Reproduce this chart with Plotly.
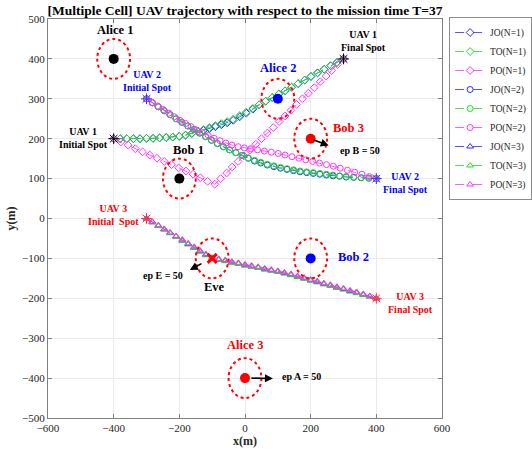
import plotly.graph_objects as go

# ---------------- data ----------------
title_text = "[Multiple Cell] UAV trajectory with respect to the mission time T=37"
x_ticks = [-600, -400, -200, 0, 200, 400, 600]
y_ticks = [-500, -400, -300, -200, -100, 0, 100, 200, 300, 400, 500]

# UAV 1 (N=1)
jo1_x = [-400, -380, -360, -340, -320, -300, -280, -260, -240, -220, -200, -181, -162, -144, -126, -108, -90, -72, -54, -36,
         -16, 4, 24, 43, 63, 83, 103, 122, 142, 162, 182, 201, 221, 241, 261, 280, 300]
jo1_y = [200, 200, 200, 200, 200, 201, 201, 202, 203, 204, 206, 209, 213, 218, 221, 225, 230, 235, 240, 246,
         255, 264, 274, 285, 294, 303, 312, 320, 329, 338, 347, 356, 365, 374, 383, 391, 400]
to1_x = [-400, -380, -360, -340, -320, -300, -280, -260, -240, -220, -200, -181, -162, -144, -126, -108, -90, -72, -54, -36,
         -16, 4, 24, 43, 63, 83, 103, 122, 142, 162, 182, 201, 221, 241, 261, 280, 300]
to1_y = [200, 200, 200, 200, 200, 201, 201, 202, 203, 204, 206, 209, 213, 218, 223, 228, 233, 238, 243, 249,
         258, 267, 276, 285, 294, 303, 312, 320, 329, 338, 347, 356, 365, 374, 383, 391, 400]
po1_x = [-400, -378, -356, -334, -312, -290, -268, -246, -224, -202, -180, -158, -136, -114, -92, -74, -56, -39, -21, -3,
         15, 33, 50, 68, 86, 104, 122, 140, 157, 175, 193, 211, 229, 247, 264, 282, 300]
po1_y = [200, 192, 184, 175, 167, 159, 151, 143, 135, 127, 119, 111, 102, 93, 86, 100, 114, 129, 143, 157,
         171, 186, 200, 214, 228, 243, 257, 271, 286, 300, 314, 328, 343, 357, 371, 386, 400]

# UAV 2 (N=2)
jo2_x = [-300, -282, -264, -246, -228, -210, -192, -174, -156, -138, -120, -102, -84, -66, -47, -28, -9, 10, 29, 48,
         68, 88, 108, 128, 148, 168, 188, 208, 228, 248, 268, 288, 308, 331, 354, 377, 400]
jo2_y = [300, 290, 280, 270, 260, 250, 241, 232, 223, 214, 205, 196, 188, 180, 172, 165, 158, 151, 144, 139,
         134, 130, 126, 123, 120, 117, 115, 113, 111, 109, 107, 106, 104, 103, 102, 101, 100]
to2_x = [-300, -282, -264, -246, -228, -210, -192, -174, -156, -138, -120, -102, -84, -66, -47, -28, -9, 10, 29, 48,
         68, 88, 108, 128, 148, 168, 188, 208, 228, 248, 268, 288, 308, 331, 354, 377, 400]
to2_y = [300, 290, 280, 270, 260, 250, 241, 232, 223, 214, 205, 196, 188, 180, 172, 165, 158, 152, 146, 141,
         136, 132, 128, 125, 122, 119, 117, 115, 113, 111, 109, 107, 105, 104, 102, 101, 100]
po2_x = [-300, -283, -266, -249, -232, -215, -198, -181, -164, -147, -130, -112, -94, -76, -58, -40, -21, -2, 17, 38,
         59, 80, 101, 122, 143, 164, 185, 206, 227, 248, 269, 290, 312, 334, 356, 378, 400]
po2_y = [300, 291, 282, 273, 264, 255, 246, 238, 230, 222, 215, 208, 201, 195, 189, 184, 180, 177, 175, 172,
         169, 166, 163, 159, 155, 151, 147, 143, 139, 135, 131, 126, 121, 116, 111, 105, 100]

# UAV 3 (N=3)
jo3_x = [-300, -282, -264, -246, -228, -210, -191, -173, -155, -137, -119, -100, -80, -60, -40, -20, 0, 20, 40, 60,
         80, 100, 120, 140, 160, 180, 200, 220, 240, 260, 280, 300, 320, 340, 360, 380, 400]
jo3_y = [0, -9, -18, -27, -36, -45, -55, -64, -73, -82, -91, -100, -103, -106, -110, -113, -117, -120, -123, -127,
         -130, -133, -137, -141, -146, -150, -155, -159, -164, -168, -173, -177, -182, -186, -191, -195, -200]
to3_x = [-300, -282, -264, -246, -228, -210, -191, -173, -155, -137, -119, -100, -80, -60, -40, -20, 0, 20, 40, 60,
         80, 100, 120, 140, 160, 180, 200, 220, 240, 260, 280, 300, 320, 340, 360, 380, 400]
to3_y = [0, -10, -19, -28, -37, -46, -56, -65, -74, -83, -92, -101, -104, -107, -111, -114, -118, -121, -124, -128,
         -131, -134, -138, -142, -147, -151, -156, -160, -165, -169, -174, -178, -183, -187, -192, -196, -201]
po3_x = [-300, -282, -264, -246, -228, -210, -191, -173, -155, -137, -119, -100, -80, -60, -40, -20, 0, 20, 40, 60,
         80, 100, 120, 140, 160, 180, 200, 220, 240, 260, 280, 300, 320, 340, 360, 380, 400]
po3_y = [0, -8, -17, -26, -35, -44, -53, -62, -71, -80, -89, -98, -101, -104, -108, -111, -115, -118, -121, -125,
         -128, -131, -135, -139, -144, -148, -153, -157, -162, -166, -171, -175, -180, -184, -189, -194, -200]

# UAV initial / final spots
uav_names = ["UAV 1", "UAV 2", "UAV 3"]
start_x = [-400, -300, -300]
start_y = [200, 300, 0]
final_x = [300, 400, 400]
final_y = [400, 100, -200]

# users
alice_names = ["Alice 1", "Alice 2", "Alice 3"]
alice_x = [-400, 100, 0]
alice_y = [400, 300, -400]
bob_names = ["Bob 1", "Bob 2", "Bob 3"]
bob_x = [-200, 200, 200]
bob_y = [100, -100, 200]
eve_x = [-100]
eve_y = [-100]
ep_a = 50
ep_b = 50
ep_e = 50

# ---------------- styles ----------------
SERIF = "Liberation Serif"
BLUE = "#2b2bff"
GREEN = "#22dd22"
MAG = "#ff33ff"
RED = "#ff0000"
cell_colors = ["#000000", "#0000ff", "#ff0000"]
star_colors = ["#000000", "#3333ff", "#ff3333"]

fig = go.Figure()

series = [
    ("JO(N=1)", jo1_x, jo1_y, BLUE, "diamond-open"),
    ("TO(N=1)", to1_x, to1_y, GREEN, "diamond-open"),
    ("PO(N=1)", po1_x, po1_y, MAG, "diamond-open"),
    ("JO(N=2)", jo2_x, jo2_y, BLUE, "circle-open"),
    ("TO(N=2)", to2_x, to2_y, GREEN, "circle-open"),
    ("PO(N=2)", po2_x, po2_y, MAG, "circle-open"),
    ("JO(N=3)", jo3_x, jo3_y, BLUE, "triangle-up-open"),
    ("TO(N=3)", to3_x, to3_y, GREEN, "triangle-up-open"),
    ("PO(N=3)", po3_x, po3_y, MAG, "triangle-up-open"),
]
for name, xs, ys, col, sym in series:
    fig.add_trace(go.Scatter(
        x=xs, y=ys, mode="lines+markers", name=name,
        line=dict(color=col, width=0.8, dash="dash"),
        marker=dict(symbol=sym, size=6, color=col, line=dict(color=col, width=1)),
    ))

# start / final stars
for i in range(3):
    fig.add_trace(go.Scatter(
        x=[start_x[i], final_x[i]], y=[start_y[i], final_y[i]], mode="markers",
        marker=dict(symbol="asterisk-open", size=9, color=star_colors[i],
                    line=dict(color=star_colors[i], width=1)),
        showlegend=False, hoverinfo="skip"))

# users
fig.add_trace(go.Scatter(x=alice_x, y=alice_y, mode="markers",
                         marker=dict(size=10, color=cell_colors), showlegend=False))
fig.add_trace(go.Scatter(x=bob_x, y=bob_y, mode="markers",
                         marker=dict(size=10, color=cell_colors), showlegend=False))
fig.add_trace(go.Scatter(x=eve_x, y=eve_y, mode="markers",
                         marker=dict(symbol="x-thin-open", size=9, color=RED,
                                     line=dict(color=RED, width=3)), showlegend=False))

# uncertainty regions
regions = ([(x, y, ep_a) for x, y in zip(alice_x, alice_y)] +
           [(x, y, ep_b) for x, y in zip(bob_x, bob_y)] +
           [(eve_x[0], eve_y[0], ep_e)])
for cx, cy, r in regions:
    fig.add_shape(type="circle", xref="x", yref="y",
                  x0=cx - r, x1=cx + r, y0=cy - r, y1=cy + r,
                  line=dict(color=RED, width=2, dash="dot"))

ann = []
def label(text, x, y, color, size=12.5, xanchor="center"):
    ann.append(dict(x=x, y=y, xref="x", yref="y", text="<b>" + text + "</b>", showarrow=False,
                    xanchor=xanchor, yanchor="middle", align="center",
                    font=dict(family=SERIF, size=size, color=color)))

# user labels
label(alice_names[0], alice_x[0] + 5, alice_y[0] + 72, cell_colors[0])
label(alice_names[1], alice_x[1], alice_y[1] + 78, cell_colors[1])
label(alice_names[2], alice_x[2], alice_y[2] + 82, RED)
label(bob_names[0], bob_x[0] + 28, bob_y[0] + 71, cell_colors[0])
label(bob_names[1], bob_x[1] + 130, bob_y[1] + 3, cell_colors[1])
label(bob_names[2], bob_x[2] + 115, bob_y[2] + 28, RED)
label("Eve", eve_x[0] + 8, eve_y[0] - 72, "#000000")

# UAV spot labels
sp = 10
label(uav_names[0] + "<br>Initial Spot", start_x[0] - 10, start_y[0] + 2, cell_colors[0], sp, "right")
label(uav_names[1] + "<br>Initial Spot", start_x[1] + 4, start_y[1] + 45, cell_colors[1], sp)
label(uav_names[2] + "<br>Initial  Spot", start_x[2] - 18, start_y[2] + 8, RED, sp, "right")
label(uav_names[0] + "<br>Final Spot", final_x[0] + 60, final_y[0] + 45, cell_colors[0], sp)
label(uav_names[1] + "<br>Final Spot", final_x[1] + 90, final_y[1] - 10, cell_colors[1], sp)
label(uav_names[2] + "<br>Final Spot", final_x[2] + 105, final_y[2] - 11, RED, sp)

# ep arrows and labels
def arrow(x0, y0, x1, y1):
    ann.append(dict(x=x1, y=y1, ax=x0, ay=y0, xref="x", yref="y", axref="x", ayref="y",
                    text="", showarrow=True, arrowhead=2, arrowsize=1, arrowwidth=1.6,
                    arrowcolor="#000000"))

arrow(bob_x[2] + 5, bob_y[2] - 2, bob_x[2] + ep_b + 5, bob_y[2] - 17)
label("ep B = %d" % ep_b, bob_x[2] + 83, bob_y[2] - 30, "#000000", 10, "left")
arrow(eve_x[0] - 28, eve_y[0] - 11, eve_x[0] - 68, eve_y[0] - 29)
label("ep E = %d" % ep_e, eve_x[0] - 82, eve_y[0] - 42, "#000000", 10, "right")
arrow(alice_x[2] + 15, alice_y[2], alice_x[2] + ep_a + 35, alice_y[2] - 1)
label("ep A = %d" % ep_a, alice_x[2] + 106, alice_y[2] + 3, "#000000", 10, "left")

fig.update_layout(
    width=532, height=456,
    margin=dict(l=48, r=90, t=19, b=38, autoexpand=False),
    paper_bgcolor="white", plot_bgcolor="white",
    font=dict(family=SERIF, size=11, color="#262626"),
    title=dict(text="<b>" + title_text + "</b>", x=0.5, xref="paper", xanchor="center",
               y=1 - 10 / 456, yref="container", yanchor="middle",
               font=dict(family=SERIF, size=13.5, color="#000000")),
    legend=dict(x=1.018, y=1.005, xanchor="left", yanchor="top", bordercolor="#8c8c8c",
                borderwidth=1, bgcolor="white", font=dict(family=SERIF, size=9.5, color="#262626"),
                itemwidth=30, tracegroupgap=0),
    annotations=ann,
    showlegend=True,
)
fig.update_xaxes(range=[-600, 600], tickvals=x_ticks, ticks="inside", ticklen=4, tickcolor="#808080",
                 showline=True, linecolor="#808080", linewidth=1, mirror="ticks",
                 showgrid=True, gridcolor="#ebebeb", zeroline=False,
                 tickfont=dict(family=SERIF, size=11, color="#262626"),
                 title=dict(text="<b>x(m)</b>", font=dict(family=SERIF, size=12, color="#262626"), standoff=3))
fig.update_yaxes(range=[-500, 500], tickvals=y_ticks, ticks="inside", ticklen=4, tickcolor="#808080",
                 showline=True, linecolor="#808080", linewidth=1, mirror="ticks",
                 showgrid=True, gridcolor="#ebebeb", zeroline=False,
                 tickfont=dict(family=SERIF, size=11, color="#262626"),
                 title=dict(text="<b>y(m)</b>", font=dict(family=SERIF, size=12, color="#262626"), standoff=3))

fig.write_html("out.html", config={"displayModeBar": False},
               post_script="document.body.style.margin='0px';")
